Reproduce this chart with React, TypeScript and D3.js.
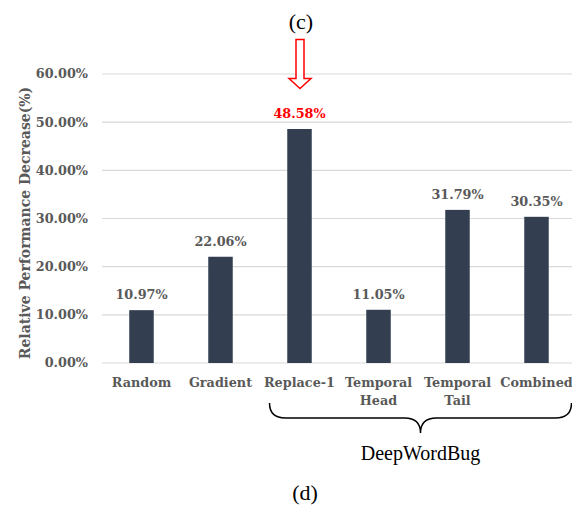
import React from 'react';
import * as d3 from 'd3';

const categories = ['Random', 'Gradient', 'Replace-1', 'Temporal Head', 'Temporal Tail', 'Combined'];
const values = [0.1097, 0.2206, 0.4858, 0.1105, 0.3179, 0.3035];
const yTicks = [0, 0.1, 0.2, 0.3, 0.4, 0.5, 0.6];
const highlighted = 'Replace-1';
const groupStart = 'Replace-1';
const groupEnd = 'Combined';
const groupName = 'DeepWordBug';

const W = 572, H = 506;
const BAR = '#333f50';
const GRAY = '#595959';
const LABEL_FONT = '"DejaVu Serif", serif';

function App() {
    const x = d3.scaleBand<string>()
        .domain(categories)
        .range([102, 576])
        .paddingInner(0.69)
        .paddingOuter(0.345);
    const y = d3.scaleLinear().domain([0, 0.6]).range([363, 74]);
    const fmt = d3.format('.2%');
    const cx = (c: string) => (x(c) as number) + x.bandwidth() / 2;

    // brace under the DeepWordBug group
    const bx0 = cx(groupStart) - 30, bx1 = cx(groupEnd) + 35;
    const bm = (bx0 + bx1) / 2;
    const by0 = 403, by1 = 418, by2 = 433, r = 16;
    const brace = `M${bx0},${by0} Q${bx0},${by1} ${bx0 + r},${by1} L${bm - r},${by1} Q${bm},${by1} ${bm},${by2}` +
        ` Q${bm},${by1} ${bm + r},${by1} L${bx1 - r},${by1} Q${bx1},${by1} ${bx1},${by0}`;

    // hollow arrow pointing at the highlighted bar
    const ax = cx(highlighted) + 0.5;
    const arrow = [
        [ax - 4, 39.5], [ax + 4, 39.5], [ax + 4, 78.5], [ax + 11, 78.5],
        [ax, 88.5], [ax - 11, 78.5], [ax - 4, 78.5]
    ].map(p => p.join(',')).join(' ');

    return (
        <svg width={W} height={H} style={{ position: 'absolute', left: 0, top: 0, background: '#fff' }}>
            <text x={301} y={29} textAnchor="middle" fontFamily='"Liberation Serif", serif' fontSize={22}>(c)</text>

            {yTicks.map(t => (
                <g key={t}>
                    <line x1={102} x2={576} y1={y(t)} y2={y(t)} stroke="#d9d9d9" strokeWidth={1.2} />
                    <text x={88} y={y(t)} dy="0.35em" textAnchor="end" fontFamily={LABEL_FONT}
                        fontWeight="bold" fontSize={12.8} fill={GRAY}>{fmt(t)}</text>
                </g>
            ))}

            <text transform="translate(30,223) rotate(-90)" textAnchor="middle" fontFamily={LABEL_FONT}
                fontWeight="bold" fontSize={14} fill={GRAY}>Relative Performance Decrease(%)</text>

            {categories.map((c, i) => (
                <g key={c}>
                    <rect x={x(c)} y={y(values[i])} width={x.bandwidth()} height={y(0) - y(values[i])} fill={BAR} />
                    <text x={cx(c)} y={y(values[i]) - 11} textAnchor="middle" fontFamily={LABEL_FONT}
                        fontWeight="bold" fontSize={12.8} fill={c === highlighted ? '#ff0000' : GRAY}>
                        {fmt(values[i])}
                    </text>
                    {c.split(' ').map((w, j) => (
                        <text key={w} x={cx(c)} y={387 + j * 18} textAnchor="middle" fontFamily={LABEL_FONT}
                            fontWeight="bold" fontSize={12.8} fill={GRAY}>{w}</text>
                    ))}
                </g>
            ))}

            <polygon points={arrow} fill="#fff" stroke="#ff0000" strokeWidth={1.5} />

            <path d={brace} fill="none" stroke="#000" strokeWidth={1.5} />
            <text x={bm} y={460} textAnchor="middle" fontFamily='"Liberation Serif", serif' fontSize={20}>{groupName}</text>

            <text x={305} y={500} textAnchor="middle" fontFamily='"Liberation Serif", serif' fontSize={22}>(d)</text>
        </svg>
    );
}

export default App;
